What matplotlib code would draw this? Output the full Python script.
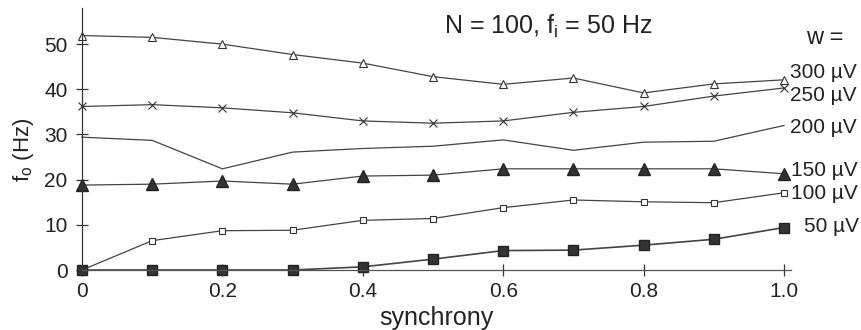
import numpy as np
import matplotlib
matplotlib.use("Agg")
import matplotlib.pyplot as plt

plt.rcParams['font.family'] = ['Liberation Sans', 'DejaVu Sans']
plt.rcParams['mathtext.fontset'] = 'custom'
plt.rcParams['mathtext.rm'] = 'Liberation Sans'
plt.rcParams['mathtext.it'] = 'Liberation Sans'

synchrony = [0, 0.1, 0.2, 0.3, 0.4, 0.5, 0.6, 0.7, 0.8, 0.9, 1.0]
w300 = [51.9, 51.5, 50.0, 47.7, 45.8, 42.8, 41.1, 42.5, 39.2, 41.2, 42.1]
w250 = [36.2, 36.6, 35.9, 34.8, 33.0, 32.5, 33.0, 34.9, 36.2, 38.5, 40.3]
w200 = [29.4, 28.7, 22.4, 26.1, 26.9, 27.4, 28.8, 26.5, 28.3, 28.5, 32.0]
w150 = [18.8, 19.0, 19.7, 19.0, 20.8, 21.0, 22.4, 22.4, 22.4, 22.4, 21.3]
w100 = [0.0, 6.5, 8.7, 8.8, 11.0, 11.4, 13.8, 15.5, 15.1, 14.9, 17.1]
w50 = [0.0, 0.0, 0.0, 0.0, 0.7, 2.4, 4.3, 4.4, 5.5, 6.8, 9.4]

labels = ['300 µV', '250 µV', '200 µV', '150 µV', '100 µV', '50 µV']
label_x = [1.056, 1.056, 1.056, 1.058, 1.058, 1.067]
label_y = [43.7, 38.6, 31.6, 22.1, 17.0, 9.7]
xticks = [0, 0.2, 0.4, 0.6, 0.8, 1.0]
xticklabels = ['0', '0.2', '0.4', '0.6', '0.8', '1.0']
yticks = [0, 10, 20, 30, 40, 50]

fig = plt.figure(figsize=(8.62, 3.30), dpi=100)
ax = fig.add_axes([82 / 862, 60 / 330, 709 / 862, 262 / 330])

lc = '#444444'
ax.plot(synchrony, w300, color=lc, lw=0.9, marker='^', ms=6, mfc='white', mec='#333333', mew=0.8, clip_on=False)
ax.plot(synchrony, w250, color=lc, lw=0.9, marker='x', ms=6, mec='#333333', mew=0.8, clip_on=False)
ax.plot(synchrony, w200, color=lc, lw=0.9, clip_on=False)
ax.plot(synchrony, w150, color=lc, lw=0.9, marker='^', ms=8, mfc='#333333', mec='#222222', clip_on=False)
ax.plot(synchrony, w100, color=lc, lw=0.9, marker='s', ms=5, mfc='white', mec='#333333', mew=0.8, clip_on=False)
ax.plot(synchrony, w50, color=lc, lw=1.2, marker='s', ms=7, mfc='#333333', mec='#222222', clip_on=False)

ax.set_xlim(0, 1.01)
ax.set_ylim(0, 58)
ax.set_xticks(xticks)
ax.set_xticklabels(xticklabels)
ax.set_yticks(yticks)
for s in ['top', 'right']:
    ax.spines[s].set_visible(False)
ax.spines['left'].set_color('#333333')
ax.spines['bottom'].set_color('#555555')
ax.spines['left'].set_linewidth(0.9)
ax.spines['bottom'].set_linewidth(0.9)
ax.tick_params(direction='inout', length=9, width=0.9, colors='#333333', labelsize=15, labelcolor='#222222')
ax.tick_params(axis='x', pad=4)
ax.tick_params(axis='y', pad=6)

ax.set_xlabel('synchrony', fontsize=18, color='#222222', labelpad=4)
fig.text(24 / 862, 1 - 150 / 330, r'f$_\mathrm{o}$ (Hz)', fontsize=16, color='#222222',
         rotation=90, ha='center', va='center')

ax.text(0.664, 53.9, r'N = 100, f$_\mathrm{i}$ = 50 Hz', fontsize=18, color='#222222', ha='center', va='center')
ax.text(1.058, 51.4, 'w =', fontsize=17, color='#222222', ha='center', va='center', clip_on=False)
for lab, xx, yy in zip(labels, label_x, label_y):
    ax.text(xx, yy, lab, fontsize=15, color='#222222', ha='center', va='center', clip_on=False)

fig.savefig('out.png', dpi=100)
